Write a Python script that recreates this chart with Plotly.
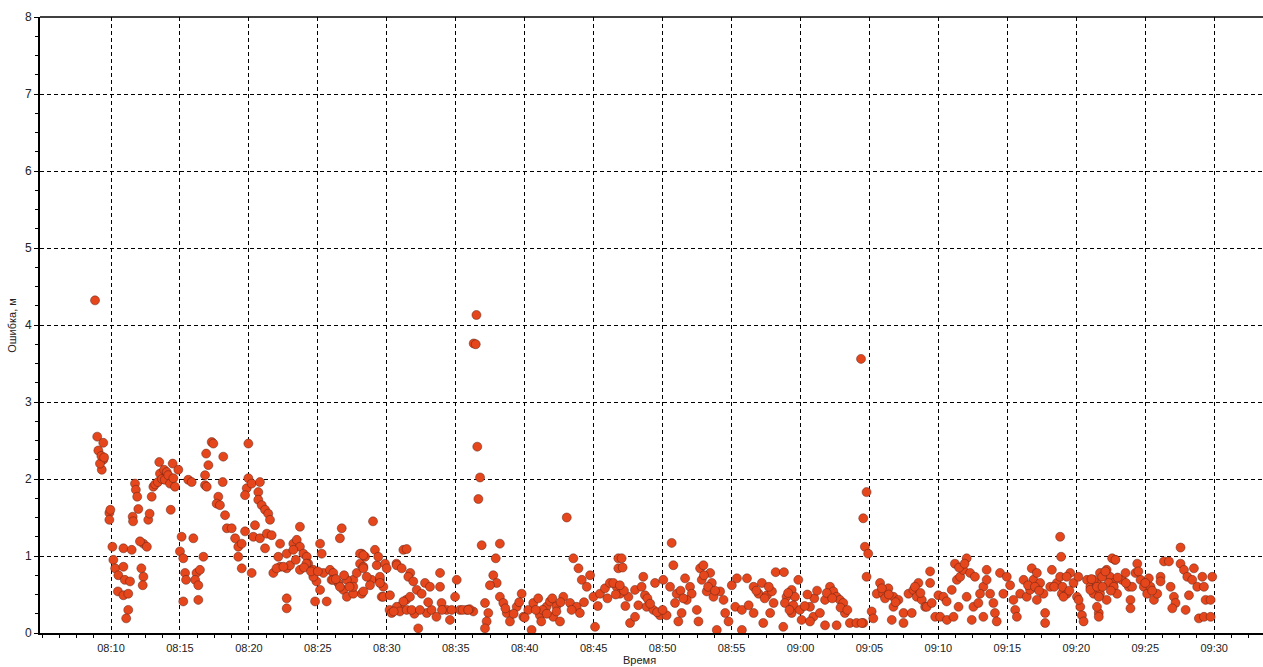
import pandas as pd
import plotly.graph_objects as go

# ---- data: time in minutes after 08:00, error in metres ----
t_a = [8.84, 9.0, 9.44, 9.08, 9.44, 9.33, 9.2, 9.3, 9.5, 9.88, 9.88, 9.95,
       10.1, 10.9, 11.5, 10.17, 10.3, 10.9, 10.53, 11.0, 11.38, 10.5, 10.9, 11.25, 11.25, 11.1,
       12.2, 12.35, 12.3, 12.35, 12.1, 12.6, 12.7, 12.8, 11.57, 11.6, 11.98, 11.74, 11.8, 11.9,
       12.95, 13.07, 13.2, 13.4, 13.55, 13.5, 13.7, 13.85, 14.04, 13.9, 14.15, 14.28, 14.52, 14.47,
       14.88, 14.64, 14.33, 15.6, 15.85, 15.12, 15.97, 15.0, 15.24, 15.37, 15.44, 15.24, 16.2,
       16.1, 16.33, 16.45, 16.7, 16.33, 17.3, 17.42, 16.9, 17.06, 18.14, 16.82, 16.82, 16.94,
       18.1, 17.78, 17.66, 17.9, 18.27, 18.4, 18.75, 19.0, 19.23, 19.48, 19.23, 19.48,
       19.96, 19.96, 19.84, 19.72, 19.72]
v_a = [4.32, 2.55, 2.47, 2.37, 2.25, 2.12, 2.2, 2.3, 2.28, 1.56, 1.47, 1.6,
       1.12, 1.10, 1.08, 0.95, 0.84, 0.86, 0.75, 0.69, 0.67, 0.54, 0.49, 0.51, 0.30, 0.19,
       0.84, 0.73, 0.62, 1.16, 1.19, 1.12, 1.47, 1.55, 1.51, 1.45, 1.61, 1.94, 1.86, 1.77,
       1.77, 1.90, 1.93, 1.96, 2.07, 2.22, 2.0, 2.12, 2.09, 1.99, 2.05, 1.94, 2.01, 2.20,
       2.12, 1.90, 1.60, 1.99, 1.96, 1.25, 1.23, 1.06, 0.97, 0.78, 0.69, 0.41, 0.78,
       0.69, 0.62, 0.82, 0.99, 0.43, 2.48, 2.46, 2.33, 2.18, 2.29, 2.05, 1.92, 1.90,
       1.96, 1.77, 1.68, 1.66, 1.53, 1.36, 1.36, 1.23, 1.12, 1.16, 0.99, 0.84,
       2.46, 2.01, 1.88, 1.79, 1.32]

t_b = [20.2, 20.2, 20.8, 20.68, 20.68, 20.93, 21.17, 21.4, 21.53, 20.44, 20.32, 20.8, 21.17,
       21.3, 21.65, 22.26, 22.13, 22.26, 22.74, 22.98, 22.74, 22.74, 23.7, 23.22, 23.47, 23.7,
       23.95, 24.2, 24.3, 23.7, 24.67, 25.16, 25.28, 24.9, 25.16, 24.8, 25.64, 25.4, 25.88,
       26.12, 26.0, 26.48, 26.73, 26.6, 26.85, 27.1, 27.57, 27.82, 28.06, 28.18, 28.42, 28.18,
       27.57, 29.0, 29.14, 29.27, 28.9, 28.78, 29.5, 21.77, 22.0, 22.5, 22.74, 23.22, 24.17,
       24.67, 26.12, 26.6, 27.1, 27.57, 28.06, 28.3, 28.3, 28.3, 28.54, 28.3, 29.38, 29.87,
       29.99, 29.5, 29.75, 29.63, 29.75, 29.5, 23.4, 24.0, 24.5, 25.0, 26.3, 27.3, 26.9]
v_b = [0.78, 1.94, 1.96, 1.83, 1.73, 1.66, 1.60, 1.55, 1.47, 1.40, 1.25, 1.23, 1.10,
       1.29, 1.27, 1.16, 0.99, 0.86, 0.84, 0.88, 0.45, 0.32, 1.38, 1.16, 1.21, 1.12,
       1.03, 0.99, 0.90, 0.82, 0.82, 1.16, 1.03, 0.67, 0.56, 0.41, 0.41, 0.78, 0.82,
       0.78, 0.69, 0.65, 1.36, 1.23, 0.56, 0.47, 0.69, 0.78, 0.90, 1.03, 0.99, 0.51,
       0.51, 1.45, 1.08, 0.88, 0.69, 0.62, 0.69, 0.78, 0.84, 0.86, 1.03, 1.08, 0.90,
       0.73, 0.69, 0.60, 0.69, 0.60, 1.03, 0.86, 1.01, 0.84, 0.73, 0.54, 0.99, 0.90,
       0.84, 0.73, 0.60, 0.47, 0.47, 0.65, 0.95, 0.85, 0.80, 0.80, 0.70, 0.60, 0.75]

t_c = [30.23, 30.7, 30.2, 30.95, 31.4, 31.2, 31.7, 31.44, 30.72, 31.08, 31.56, 31.92, 32.17,
       32.77, 33.13, 32.53, 31.68, 31.2, 30.72, 30.35, 30.95, 31.44, 32.28, 32.9, 33.25, 33.6,
       33.97, 33.86, 33.86, 34.34, 34.58, 34.95, 35.07, 35.3, 35.79, 36.27, 32.0, 31.8, 30.5,
       34.0, 35.5, 36.0, 36.3, 36.45, 36.5, 36.56, 36.76, 36.64, 36.88, 38.2, 37.9, 37.72,
       37.97, 37.48, 37.12, 37.36, 37.24, 37.12, 38.2, 38.45, 38.7, 38.93, 39.42, 39.78, 39.9,
       32.4, 33.0, 34.7, 35.9, 38.6, 39.2, 39.6]
v_c = [0.49, 0.90, 0.30, 0.34, 0.43, 1.08, 0.78, 1.09, 0.88, 0.84, 0.73, 0.67, 0.56,
       0.65, 0.60, 0.51, 0.47, 0.41, 0.34, 0.26, 0.28, 0.30, 0.06, 0.26, 0.30, 0.21,
       0.39, 0.60, 0.78, 0.30, 0.17, 0.47, 0.69, 0.30, 0.30, 0.28, 0.25, 0.30, 0.28,
       0.30, 0.30, 0.31, 3.76, 3.75, 4.13, 2.42, 2.02, 1.74, 1.14, 1.16, 0.97, 0.75,
       0.65, 0.62, 0.39, 0.26, 0.15, 0.06, 0.47, 0.39, 0.26, 0.15, 0.34, 0.51, 0.21,
       0.30, 0.40, 0.30, 0.30, 0.32, 0.25, 0.40]

t_d = [40.26, 40.62, 40.98, 41.1, 40.5, 41.58, 41.83, 42.07, 42.56, 42.8, 43.05, 43.53, 43.9,
       44.14, 44.74, 44.5, 44.98, 43.29, 43.77, 44.0, 45.1, 45.46, 45.82, 46.18, 46.67, 46.79,
       46.79, 47.03, 47.1, 48.6, 46.43, 46.91, 47.52, 48.0, 48.48, 48.72, 48.24, 48.84, 49.33,
       49.81, 47.64, 48.0, 49.45, 40.0, 41.3, 42.3, 44.3, 45.3, 46.0, 47.3, 41.2, 42.0,
       40.8, 41.6, 42.3, 42.6, 43.4, 46.6, 47.2, 46.9, 48.9, 49.1, 49.6]
v_d = [0.30, 0.39, 0.45, 0.23, 0.04, 0.34, 0.41, 0.21, 0.15, 0.47, 1.50, 0.97, 0.84,
       0.69, 0.75, 0.60, 0.47, 0.39, 0.34, 0.26, 0.08, 0.51, 0.58, 0.65, 0.60, 0.97,
       0.84, 0.97, 0.85, 0.73, 0.65, 0.51, 0.47, 0.56, 0.60, 0.49, 0.36, 0.34, 0.30,
       0.23, 0.13, 0.21, 0.65, 0.20, 0.30, 0.35, 0.40, 0.35, 0.45, 0.35, 0.15, 0.45,
       0.30, 0.25, 0.28, 0.40, 0.30, 0.50, 0.55, 0.62, 0.45, 0.38, 0.27]

t_e = [50.05, 50.54, 51.02, 50.9, 51.38, 51.14, 50.66, 50.78, 50.29, 51.63, 51.99, 52.11, 51.75,
       52.72, 52.96, 52.84, 53.45, 53.57, 53.2, 53.69, 54.17, 54.42, 52.48, 52.6, 53.93, 54.54,
       54.78, 55.02, 55.39, 55.27, 55.75, 56.24, 56.6, 55.75, 56.12, 56.6, 57.2, 56.96, 57.57,
       57.93, 58.05, 57.8, 57.3, 58.2, 58.8, 58.75, 58.99, 58.87, 59.36, 59.6, 59.84, 59.48,
       59.36, 59.96, 50.0, 51.3, 51.5, 53.0, 53.3, 53.8, 56.8, 57.4, 57.7, 59.1, 59.2]
v_e = [0.69, 0.60, 0.51, 0.39, 0.26, 0.15, 1.17, 0.88, 0.23, 0.71, 0.60, 0.51, 0.43,
       0.84, 0.88, 0.69, 0.78, 0.65, 0.54, 0.47, 0.54, 0.43, 0.30, 0.15, 0.04, 0.26,
       0.15, 0.62, 0.71, 0.34, 0.30, 0.36, 0.26, 0.04, 0.71, 0.60, 0.65, 0.51, 0.49,
       0.54, 0.39, 0.26, 0.13, 0.79, 0.79, 0.08, 0.47, 0.39, 0.56, 0.47, 0.69, 0.36,
       0.26, 0.30, 0.30, 0.55, 0.45, 0.75, 0.60, 0.55, 0.55, 0.45, 0.60, 0.52, 0.30]

t_f = [60.08, 60.69, 60.93, 60.69, 61.41, 61.78, 62.14, 62.38, 62.62, 62.86, 63.1, 63.22, 63.58,
       64.06, 64.55, 62.62, 61.78, 64.39, 64.79, 64.55, 64.67, 64.91, 64.79, 64.43, 65.16, 65.28,
       65.77, 65.53, 66.0, 66.37, 66.13, 66.74, 67.1, 66.74, 66.62, 67.47, 67.47, 68.07, 67.83,
       68.19, 68.55, 68.43, 68.8, 69.04, 69.4, 69.4, 69.16, 69.77, 69.52, 60.3, 61.0, 61.2, 60.5,
       61.9, 62.3, 62.9, 63.4, 65.9, 66.4, 66.9, 68.3, 68.7]
v_f = [0.17, 0.34, 0.21, 0.15, 0.26, 0.43, 0.60, 0.54, 0.47, 0.43, 0.39, 0.26, 0.13,
       0.13, 0.13, 0.10, 0.10, 3.56, 1.83, 1.49, 1.12, 1.03, 0.73, 0.13, 0.28, 0.19,
       0.65, 0.51, 0.51, 0.58, 0.45, 0.47, 0.43, 0.34, 0.17, 0.26, 0.13, 0.26, 0.51,
       0.56, 0.65, 0.47, 0.43, 0.34, 0.80, 0.65, 0.34, 0.21, 0.39, 0.35, 0.45, 0.55, 0.50,
       0.52, 0.45, 0.33, 0.30, 0.58, 0.50, 0.40, 0.60, 0.52]

t_g = [70.13, 70.62, 70.0, 70.37, 70.6, 70.97, 71.34, 71.58, 71.2, 72.05, 71.8, 72.3, 72.65,
       71.46, 71.1, 72.05, 72.54, 72.42, 72.9, 73.26, 73.5, 73.5, 73.02, 73.75, 73.99, 74.1,
       74.23, 73.26, 74.47, 74.96, 75.2, 74.71, 75.44, 75.57, 75.69, 76.18, 75.93, 76.41, 76.65,
       76.77, 76.89, 77.14, 77.38, 77.14, 77.62, 77.74, 77.74, 78.23, 78.11, 78.59, 78.83, 78.9,
       78.83, 78.95, 79.32, 79.56, 79.8, 79.07, 79.3, 71.5, 71.9, 76.5, 77.0, 77.3, 78.4, 79.0,
       79.5]
v_g = [0.21, 0.17, 0.49, 0.47, 0.41, 0.56, 0.69, 0.73, 0.90, 0.97, 0.82, 0.78, 0.73,
       0.34, 0.21, 0.47, 0.34, 0.17, 0.39, 0.60, 0.82, 0.69, 0.51, 0.51, 0.39, 0.26,
       0.15, 0.21, 0.78, 0.73, 0.62, 0.51, 0.43, 0.30, 0.21, 0.69, 0.51, 0.47, 0.56,
       0.84, 0.69, 0.78, 0.65, 0.43, 0.51, 0.26, 0.13, 0.82, 0.60, 0.65, 1.25, 0.99,
       0.73, 0.51, 0.51, 0.78, 0.65, 0.47, 0.73, 0.85, 0.90, 0.62, 0.60, 0.55, 0.60, 0.60,
       0.55]

t_h = [80.05, 80.29, 80.41, 80.53, 80.78, 81.02, 81.26, 81.5, 81.63, 81.72, 82.2, 82.45, 82.69,
       82.8, 82.2, 81.72, 80.15, 80.17, 81.02, 81.26, 81.5, 81.63, 81.5, 81.63, 81.87, 82.11,
       82.35, 82.6, 82.84, 82.72, 82.96, 83.32, 83.57, 83.81, 83.93, 83.93, 84.05, 84.29, 84.42,
       84.66, 84.9, 85.14, 85.26, 85.38, 85.63, 85.87, 86.11, 86.11, 86.36, 86.72, 86.84, 87.08,
       87.2, 86.96, 87.56, 87.56, 87.81, 88.05, 87.93, 88.17, 88.41, 88.53, 88.77, 89.14, 89.26,
       89.38, 89.74, 89.86, 88.89, 89.26, 89.74, 81.1, 81.9, 82.5, 83.0, 83.6, 84.5, 85.0, 85.5]
v_h = [0.47, 0.34, 0.23, 0.15, 0.69, 0.60, 0.51, 0.65, 0.26, 0.78, 0.82, 0.73, 0.65,
       0.95, 0.43, 0.51, 0.73, 0.43, 0.56, 0.69, 0.60, 0.47, 0.34, 0.21, 0.73, 0.80,
       0.65, 0.97, 0.95, 0.60, 0.51, 0.69, 0.78, 0.60, 0.43, 0.32, 0.60, 0.78, 0.90,
       0.69, 0.60, 0.51, 0.71, 0.60, 0.43, 0.51, 0.73, 0.67, 0.93, 0.93, 0.60, 0.47,
       0.39, 0.32, 1.11, 0.90, 0.82, 0.73, 0.30, 0.49, 0.69, 0.84, 0.60, 0.73, 0.60,
       0.43, 0.43, 0.73, 0.19, 0.21, 0.21, 0.70, 0.60, 0.55, 0.72, 0.65, 0.80, 0.65, 0.55]

x_tick_labels = ["08:10", "08:15", "08:20", "08:25", "08:30", "08:35", "08:40", "08:45",
                 "08:50", "08:55", "09:00", "09:05", "09:10", "09:15", "09:20", "09:25", "09:30"]
y_tick_values = [0, 1, 2, 3, 4, 5, 6, 7, 8]

# ---- build ----
base = pd.Timestamp("2000-01-01 08:00:00")
t_all = t_a + t_b + t_c + t_d + t_e + t_f + t_g + t_h
v_all = v_a + v_b + v_c + v_d + v_e + v_f + v_g + v_h
x_all = [base + pd.Timedelta(minutes=m) for m in t_all]
tickvals = [pd.Timestamp("2000-01-01 " + s + ":00") for s in x_tick_labels]

fig = go.Figure()
fig.add_trace(go.Scatter(
    x=x_all, y=v_all, mode="markers",
    marker=dict(size=9, color="#E6461B",
                line=dict(color="rgba(90,35,25,0.7)", width=0.7)),
    showlegend=False, hoverinfo="x+y",
))

font_axis = dict(family="Liberation Sans, Arial, sans-serif", size=11, color="#222222")

fig.update_layout(
    width=1263, height=667,
    margin=dict(l=40, r=0, t=17, b=34),
    paper_bgcolor="white", plot_bgcolor="white",
    font=font_axis,
    xaxis=dict(
        type="date",
        range=[base + pd.Timedelta(minutes=4.85), base + pd.Timedelta(minutes=93.54)],
        tickmode="array", tickvals=tickvals, ticktext=x_tick_labels,
        showgrid=True, gridcolor="black", gridwidth=1, griddash="4px,3px",
        ticks="outside", ticklen=4, tickcolor="black", tickwidth=1,
        showline=True, linecolor="black", linewidth=2,
        zeroline=False, tickfont=font_axis,
        minor=dict(dtick=75000, tick0=base, ticks="outside", ticklen=3,
                   tickcolor="black", showgrid=False),
    ),
    yaxis=dict(
        range=[0, 8], tickmode="array", tickvals=y_tick_values,
        showgrid=True, gridcolor="black", gridwidth=1, griddash="4px,3px",
        ticks="outside", ticklen=4, tickcolor="black", tickwidth=1,
        showline=True, linecolor="black", linewidth=2,
        zeroline=False, tickfont=dict(family="Liberation Sans, Arial, sans-serif", size=12, color="#222222"),
        minor=dict(dtick=0.25, ticks="outside", ticklen=3, tickcolor="black", showgrid=False),
    ),
    shapes=[dict(type="line", xref="paper", yref="paper", x0=0, x1=1, y0=1, y1=1,
                 line=dict(color="black", width=1.5))],
    annotations=[
        dict(text="Время", xref="paper", yref="paper", x=0.49, y=-0.044,
             xanchor="center", yanchor="middle", showarrow=False, font=font_axis),
        dict(text="Ошибка, м", xref="paper", yref="paper", x=-0.023, y=0.5,
             xanchor="center", yanchor="middle", textangle=-90, showarrow=False, font=font_axis),
    ],
)

fig.write_html("out.html")
